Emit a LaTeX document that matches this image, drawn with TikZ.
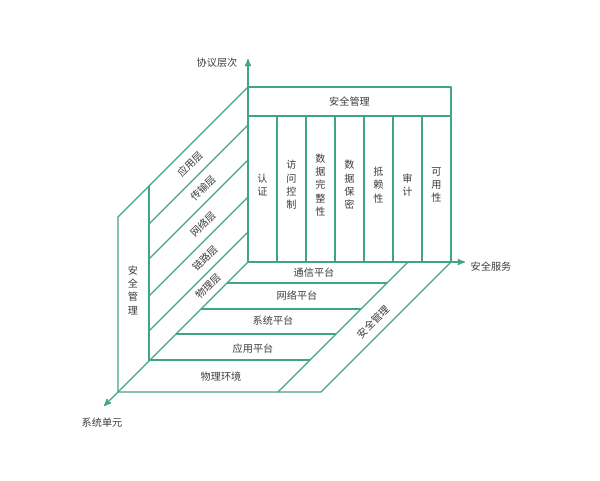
\documentclass[tikz,border=0pt]{standalone}
\usepackage{fontspec}
\setmainfont{Noto Sans CJK SC}
\usetikzlibrary{arrows}
\definecolor{frame}{RGB}{64,166,130}
\definecolor{ink}{RGB}{60,60,60}

\begin{document}
\begin{tikzpicture}[x=0.75pt,y=-0.75pt,>=stealth',line join=round,
  every node/.style={text=ink,font=\fontsize{7.6}{10}\selectfont,inner sep=1pt},
  wall/.style={draw=frame,line width=1pt},
  col/.style={align=center},
  slant/.style={rotate=45}]

\useasboundingbox (0,0) rectangle (600,480);

% axes
\coordinate (o)  at (248,262);
\coordinate (up) at (248,59);
\coordinate (rt) at (465,262);
\coordinate (dn) at (104,406);

\draw[wall,->] (o) -- (up);
\draw[wall,->] (o) -- (rt);
\draw[wall,->] (o) -- (dn);

\node (proto) at (217,63)  {协议层次};
\node (serv)  at (491,267) {安全服务};
\node (unit)  at (102,423) {系统单元};

% front panel: security services
\draw[wall] (248,87) rectangle (451,262);
\draw[wall] (248,116) -- (451,116);
\foreach \x in {277,306,335,364,393,422}
  \draw[wall] (\x,116) -- (\x,262);

\node (smtop) at (349.5,102) {安全管理};
\foreach \k/\t/\n in {0/{认\\证}/auth,1/{访\\问\\控\\制}/acc,2/{数\\据\\完\\整\\性}/integ,
                      3/{数\\据\\保\\密}/conf,4/{抵\\赖\\性}/nrep,5/{审\\计}/audit,
                      6/{可\\用\\性}/avail}
  \node[col] (\n) at ({262.5+29*\k},185) {\t};

% side wall: protocol layers
\draw[wall] (248,87) -- (118,217) -- (118,392);
\draw[wall] (149,186) -- (149,361);
\foreach \y in {125,160,197,232}
  \draw[wall] (248,\y) -- (149,{\y+99});

\node[slant] (app)  at (190,164) {应用层};
\node[slant] (trans) at (203,188) {传输层};
\node[slant] (net)  at (203,224) {网络层};
\node[slant] (link) at (205,258) {链路层};
\node[slant] (phys) at (208,286) {物理层};
\node[col]   (smleft) at (133,290) {安\\全\\管\\理};

% floor: system units
\foreach \y in {283,309,334,360}
  \draw[wall] ({510-\y},\y) -- ({670-\y},\y);
\draw[wall] (118,392) -- (321,392) -- (451,262);
\draw[wall] (408,262) -- (278,392);

\node (comm)  at (314,273) {通信平台};
\node (netp)  at (297,296) {网络平台};
\node (sysp)  at (273,321) {系统平台};
\node (appp)  at (253,349) {应用平台};
\node (env)   at (221,377) {物理环境};
\node[slant] (smfloor) at (373,322) {安全管理};

\end{tikzpicture}
\end{document}
